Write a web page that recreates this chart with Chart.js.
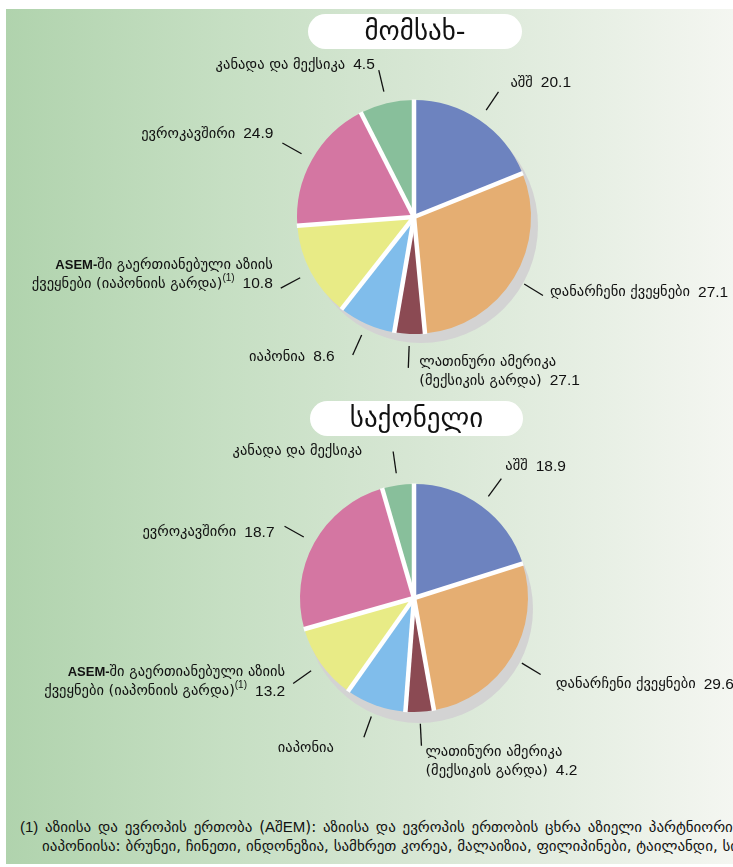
<!DOCTYPE html>
<html><head><meta charset="utf-8">
<script src="https://cdn.jsdelivr.net/npm/chart.js@4.4.0/dist/chart.umd.min.js"></script>
<style>
html,body{margin:0;padding:0;background:#fff;}
#page{position:relative;width:733px;height:867px;overflow:hidden;background:#fff;}
#bg{position:absolute;left:6px;top:9px;right:0;bottom:3px;background:linear-gradient(to right,#b0d3ad 0%,#c6dfc3 30%,#d6e6d3 55%,#e5eee2 78%,#f4f6f1 100%);}
canvas{position:absolute;left:0;}
.pill{position:absolute;background:#fff;border-radius:18px;text-align:center;font-family:"DejaVu Sans",sans-serif;font-size:27px;color:#111;}
.foot{position:absolute;white-space:nowrap;font-family:"DejaVu Sans",sans-serif;font-size:15px;color:#111;}
.foot .lat{font-family:"Liberation Sans Narrow","Liberation Sans",sans-serif;font-size:15px;}
</style>
</head><body>
<div id="page">
  <div id="bg"></div>
  <canvas id="c1" width="733" height="400" style="top:0"></canvas>
  <canvas id="c2" width="733" height="400" style="top:400px"></canvas>
  <div class="pill" style="left:308px;top:14px;width:214px;height:35px;line-height:34px;">მომსახ-</div>
  <div class="pill" style="left:310px;top:401px;width:213px;height:35px;line-height:34px;">საქონელი</div>
  <div class="foot" style="left:20px;top:818px;word-spacing:2px;"><span class="lat">(1)</span> აზიისა და ევროპის ერთობა (<span class="lat">A</span>შ<span class="lat">EM</span>): აზიისა და ევროპის ერთობის ცხრა აზიელი პარტნიორი</div>
  <div class="foot" style="left:42px;top:837px;">იაპონიისა: ბრუნეი, ჩინეთი, ინდონეზია, სამხრეთ კორეა, მალაიზია, ფილიპინები, ტაილანდი, სინგაპური</div>
</div>
<script>
// ---- data ----
const categories = ['აშშ', 'დანარჩენი ქვეყნები', 'ლათინური ამერიკა (მექსიკის გარდა)', 'იაპონია', 'ASEM-ში გაერთიანებული აზიის ქვეყნები (იაპონიის გარდა)', 'ევროკავშირი', 'კანადა და მექსიკა'];
const labelLines = [
  ['აშშ'],
  ['დანარჩენი ქვეყნები'],
  ['ლათინური ამერიკა', '(მექსიკის გარდა)'],
  ['იაპონია'],
  ['ASEM-ში გაერთიანებული აზიის', 'ქვეყნები (იაპონიის გარდა)^'],
  ['ევროკავშირი'],
  ['კანადა და მექსიკა']
];
// slice sizes as drawn in the picture
const topPieValues = [18.9, 29.6, 4.2, 7.9, 13.2, 18.7, 7.5];
const bottomPieValues = [20.1, 27.1, 4.0, 8.6, 10.8, 24.9, 4.5];
// numbers printed next to the labels
const topLabelNumbers = ['20.1', '27.1', '27.1', '8.6', '10.8', '24.9', '4.5'];
const bottomLabelNumbers = ['18.9', '29.6', '4.2', '', '13.2', '18.7', ''];

// ---- styles ----
const sliceColors = ['#6d83bf', '#e5ae72', '#8b4a53', '#80bdeb', '#e8eb86', '#d476a2', '#88bf9b'];
const topLabelPlace = [
  {dx: 12, dy: -9, align: 'left'},
  {dx: 7, dy: -3, align: 'left'},
  {dx: 11, dy: -6, align: 'left'},
  {dx: -18, dy: 2, align: 'right'},
  {dx: -8, dy: -23, align: 'right'},
  {dx: -9, dy: -9, align: 'right'},
  {dx: -4, dy: -5, align: 'right'}
];
const bottomLabelPlace = [
  {dx: 4, dy: -12, align: 'left'},
  {dx: 15, dy: 10, align: 'left'},
  {dx: 4, dy: 6, align: 'left'},
  {dx: -30, dy: 11, align: 'right'},
  {dx: -8, dy: -11, align: 'right'},
  {dx: -10, dy: 6, align: 'right'},
  {dx: -31, dy: 0, align: 'right'}
];

const FONT_GEO = '14.5px "DejaVu Sans", sans-serif';
const FONT_NUM = '15.5px "Liberation Sans", Arial, sans-serif';
const FONT_LAT = 'bold 13px "Liberation Sans", Arial, sans-serif';
const FONT_SUP = '10px "Liberation Sans", Arial, sans-serif';
const NUM_GAP = 8;

function tokenize(line) {
  const out = [];
  const re = /(\^)|(\|[0-9.]+)|([A-Za-z\-]+)|([^A-Za-z0-9.\^|]+)/g;
  let m;
  while ((m = re.exec(line))) {
    if (m[1]) out.push({t: '(1)', f: FONT_SUP, up: -6, pre: 0});
    else if (m[2]) out.push({t: m[2].slice(1), f: FONT_NUM, up: 0, pre: NUM_GAP});
    else if (m[3]) out.push({t: m[3], f: FONT_LAT, up: 0, pre: 0});
    else out.push({t: m[4], f: FONT_GEO, up: 0, pre: 0});
  }
  return out;
}

function drawRich(ctx, line, x, y, align) {
  const toks = tokenize(line);
  let w = 0;
  toks.forEach(tk => { ctx.font = tk.f; tk.w = ctx.measureText(tk.t).width; w += tk.w + tk.pre; });
  let cx = align === 'right' ? x - w : x;
  ctx.textAlign = 'left';
  ctx.textBaseline = 'middle';
  toks.forEach(tk => { cx += tk.pre; ctx.font = tk.f; ctx.fillText(tk.t, cx, y + tk.up); cx += tk.w; });
}

const piePlugin = {
  id: 'pieDecor',
  beforeDatasetsDraw(chart) {
    const arc = chart.getDatasetMeta(0).data[0];
    if (!arc) return;
    const p = arc.getProps(['x', 'y', 'outerRadius'], true);
    const o = chart.options.plugins.pieDecor;
    const ctx = chart.ctx;
    ctx.save();
    ctx.fillStyle = '#d3d3d3';
    ctx.beginPath();
    ctx.arc(p.x + o.shadowDx, p.y + o.shadowDy, p.outerRadius, 0, Math.PI * 2);
    ctx.fill();
    ctx.restore();
  },
  afterDatasetsDraw(chart) {
    const ctx = chart.ctx;
    const o = chart.options.plugins.pieDecor;
    const arcs = chart.getDatasetMeta(0).data;
    ctx.save();
    // white separators
    ctx.strokeStyle = '#ffffff';
    ctx.lineWidth = 4.5;
    arcs.forEach(a => {
      const p = a.getProps(['x', 'y', 'startAngle', 'outerRadius'], true);
      ctx.beginPath();
      ctx.moveTo(p.x, p.y);
      ctx.lineTo(p.x + Math.cos(p.startAngle) * (p.outerRadius + 0.5), p.y + Math.sin(p.startAngle) * (p.outerRadius + 0.5));
      ctx.stroke();
    });
    // leader lines and labels
    ctx.strokeStyle = '#111';
    ctx.fillStyle = '#111';
    ctx.lineWidth = 1.3;
    arcs.forEach((a, i) => {
      const p = a.getProps(['x', 'y', 'startAngle', 'endAngle', 'outerRadius'], true);
      const mid = (p.startAngle + p.endAngle) / 2;
      const r1 = p.outerRadius + 12, r2 = p.outerRadius + 34;
      const x1 = p.x + Math.cos(mid) * r1, y1 = p.y + Math.sin(mid) * r1;
      const x2 = p.x + Math.cos(mid) * r2, y2 = p.y + Math.sin(mid) * r2;
      ctx.beginPath();
      ctx.moveTo(x1, y1);
      ctx.lineTo(x2, y2);
      ctx.stroke();
      const pl = o.place[i];
      const lines = labelLines[i].slice();
      const num = o.numbers[i];
      if (num) lines[lines.length - 1] += '|' + num;
      lines.forEach((ln, k) => {
        drawRich(ctx, ln, x2 + pl.dx, y2 + pl.dy + k * 19, pl.align);
      });
    });
    ctx.restore();
  }
};

function makePie(id, values, numbers, place, pad, sh) {
  return new Chart(document.getElementById(id), {
    type: 'pie',
    data: {
      labels: categories,
      datasets: [{data: values, backgroundColor: sliceColors, borderWidth: 0, hoverOffset: 0}]
    },
    options: {
      responsive: false,
      animation: false,
      events: [],
      layout: {padding: pad},
      plugins: {
        legend: {display: false},
        tooltip: {enabled: false},
        pieDecor: {numbers: numbers, place: place, shadowDx: sh[0], shadowDy: sh[1]}
      }
    },
    plugins: [piePlugin]
  });
}

makePie('c1', topPieValues, topLabelNumbers, topLabelPlace, {left: 297, right: 202, top: 100, bottom: 66}, [7, 9]);
makePie('c2', bottomPieValues, bottomLabelNumbers, bottomLabelPlace, {left: 300, right: 205, top: 84, bottom: 88}, [5, 11]);
</script>
</body></html>
